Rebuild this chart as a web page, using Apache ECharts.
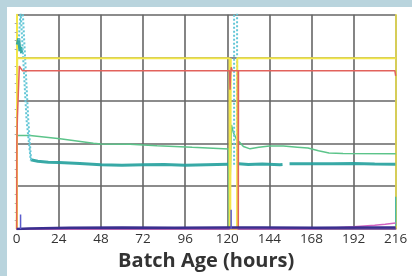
<!DOCTYPE html>
<html lang="en">
<head>
    <meta charset="UTF-8">
    <title>Batch Age</title>
    <script src="https://cdn.jsdelivr.net/npm/echarts@6.0.0/dist/echarts.min.js"></script>
    <style>
        html, body { margin: 0; padding: 0; width: 412px; height: 276px; background: #b9d4dd; overflow: hidden; }
        #panel { position: absolute; left: 7px; top: 7px; width: 405px; height: 269px; background: #fff; }
        #container { position: absolute; left: 0; top: 0; width: 412px; height: 276px; }
    </style>
</head>
<body>
<div id="panel"></div>
<div id="container"></div>
<script>
    // x ticks (hours)
    var xTicks = [0, 24, 48, 72, 96, 120, 144, 168, 192, 216];

    // [hours, value] pairs (y scale 0..100)
    var yellowData = [[0, 0], [0.3, 79.7], [121.3, 79.7], [121.4, 0], [122.0, 0], [122.0, 79.7], [121.7, 79.7], [121.7, 0],
        [125.6, 0], [125.7, 79.7], [216, 79.7]];
    var redData = [[0, 0], [0.1, 40], [0.4, 52], [1.5, 76], [2.4, 75.8], [3.2, 73.9], [121.3, 73.9], [121.6, 65],
        [121.9, 72], [122.3, 75.5], [122.8, 73.9], [126.2, 73.9], [126.3, 0], [126.4, 73.9], [215.5, 73.9], [216, 71.5]];
    var cyanDots = [[1.2, 88], [2.2, 102], [5.6, 51], [8.0, 32], null, [3.4, 102], [6.6, 51], [8.2, 32], null,
        [123.9, 30], [123.9, 102], [125.6, 102], [125.6, 30]];
    var tealData = [[0.3, 86], [1.2, 89], [1.8, 83], [2.4, 85], [2.8, 82], null,
        [8, 32.3], [12, 31.6], [18, 31.2], [24, 31.0], [36, 30.6], [48, 30.0], [60, 29.8], [72, 30.0], [84, 30.1],
        [96, 29.8], [108, 30.0], [120.5, 30.2], null, [126.5, 30.4], [132, 30.1], [140, 30.3], [150, 30.0], [151.5, 30.1], null,
        [155.5, 30.4], [168, 30.5], [180, 30.4], [192, 30.6], [204, 30.3], [215.8, 30.2]];
    var tealTail = [[216, 15], [216, 1.5]];
    var greenData = [[0, 43.6], [7.6, 43.6], [24.7, 42.1], [43.7, 40], [48, 39.7], [64.6, 39.6], [80, 38.9], [100, 38.1],
        [120.8, 37.3], [121.0, 0], [121.8, 0], [122.4, 48.6], [123.5, 45], [125.4, 41.6], [127.3, 40.3], [129.2, 38.5],
        [133, 37.4], [138, 38.1], [144, 38.7], [152, 38.7], [160, 38.2], [166, 37.8], [172, 36.5], [178, 35.5],
        [186, 35.2], [216, 35.1]];
    var navyData = [[0, 0], [7, 0.2], [7.6, 0.7], [30, 0.6], [60, 0.7], [90, 0.6],
        [120, 0.7], [140, 0.7], [170, 0.6], [200, 0.7], [216, 0.7]];
    var blueSpikes = [[2.2, 0], [2.2, 6.8], null, [122.2, 0], [122.2, 9]];
    var pinkData = [[0, 0], [168, 0.1], [180, 0.5], [192, 1.1], [204, 1.8], [210, 2.2], [216, 2.8]];

    var myChart = echarts.init(document.getElementById("container"), null, { renderer: "canvas" });

    function line(data, color, width, type, z, opacity) {
        return {
            type: "line", data: data, showSymbol: false, symbol: "none", connectNulls: false,
            clip: true, z: z || 2, animation: false,
            lineStyle: { color: color, width: width, type: type || "solid", opacity: opacity || 1 }
        };
    }

    var option = {
        backgroundColor: "transparent",
        animation: false,
        grid: { left: 16.7, right: 16.3, top: 14.7, bottom: 46.7, containLabel: false },
        xAxis: {
            type: "value", min: 0, max: 216, interval: 24,
            name: "Batch Age (hours)", nameLocation: "middle", nameGap: 22,
            nameTextStyle: { fontFamily: "Open Sans", fontWeight: "bold", fontSize: 20, color: "#333" },
            axisLine: { show: true, lineStyle: { color: "#8a5aa8", width: 1.5 } },
            axisTick: { show: false },
            axisLabel: {
                margin: 3, fontFamily: "Open Sans", fontSize: 13.5, color: "#333",
                formatter: function (v) { return xTicks.indexOf(v) >= 0 ? String(v) : ""; }
            },
            splitLine: { show: true, lineStyle: { color: "#666", width: 1.6 } }
        },
        yAxis: [{
            type: "value", min: 0, max: 100, interval: 20,
            axisLine: { show: true, lineStyle: { color: "#f2e64a", width: 2 } },
            axisTick: { show: false },
            minorTick: { show: true, splitNumber: 5, length: 2, lineStyle: { color: "#aaa" } },
            axisLabel: { show: false },
            splitLine: { show: true, lineStyle: { color: "#666", width: 1.6 } }
        }, {
            type: "value", min: 0, max: 100, position: "right",
            axisLine: { show: true, lineStyle: { color: "#f2e64a", width: 1.5 } },
            axisTick: { show: false }, axisLabel: { show: false }, splitLine: { show: false }
        }],
        series: [
            line(greenData, "#5cc48a", 1.5, "solid", 2),
            line(tealData, "#22a09c", 3, "solid", 3, 0.9),
            line(tealTail, "#3cb8b0", 1.2, "solid", 3),
            line(cyanDots, "#62c6d6", 2, "dotted", 4),
            line(yellowData, "#f2e64a", 2, "solid", 5),
            line(redData, "#e2625c", 1.5, "solid", 6),
            line(pinkData, "#d262c0", 1.5, "solid", 7),
            line(navyData, "#3a2f8f", 2.5, "solid", 8),
            line(blueSpikes, "#5a5ccc", 1.5, "solid", 8)
        ]
    };
    myChart.setOption(option);
</script>
</body>
</html>
